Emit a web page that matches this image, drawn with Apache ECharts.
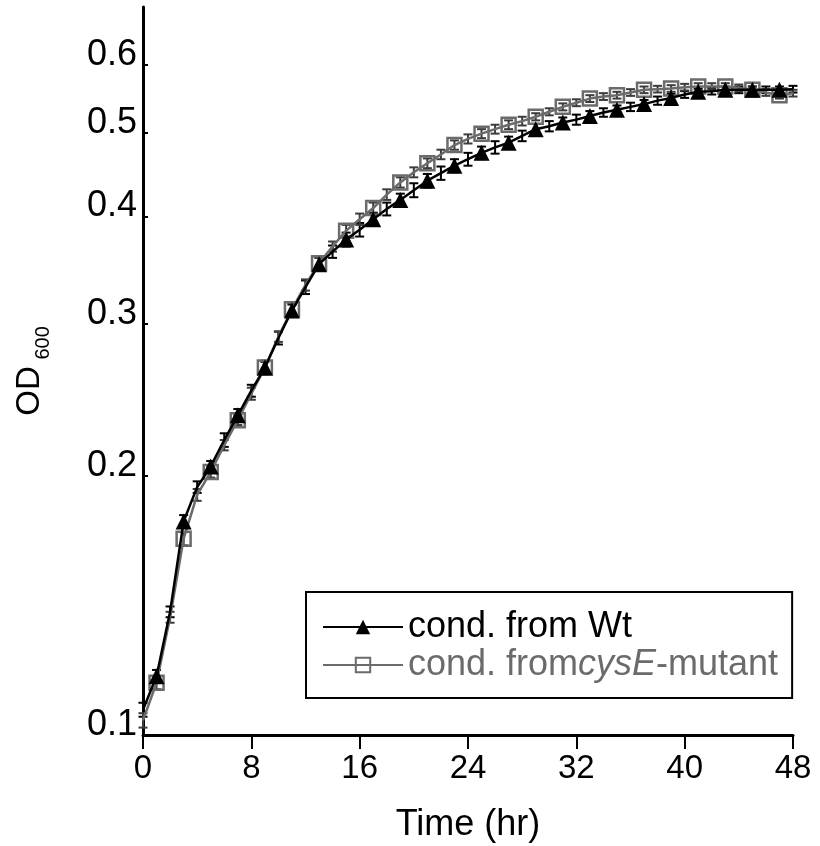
<!DOCTYPE html>
<html>
<head>
<meta charset="utf-8">
<script src="https://cdn.jsdelivr.net/npm/echarts@6/dist/echarts.min.js"></script>
<style>
  html, body { margin: 0; padding: 0; background: #fff; }
  #growth-curve { width: 820px; height: 846px; }
</style>
</head>
<body>
<div id="growth-curve"></div>
<script>
// sampling times (hr)
var hours = [0, 1, 2, 3, 4, 5, 6, 7, 8, 9, 10, 11, 12, 13, 14, 15, 16, 17, 18, 19, 20, 21, 22, 23, 24,
  25, 26, 27, 28, 29, 30, 31, 32, 33, 34, 35, 36, 37, 38, 39, 40, 41, 42, 43, 44, 45, 46, 47, 48];

// OD600, conditioned medium from wild type
var wtOD = [0.107, 0.117, 0.139, 0.177, 0.194, 0.205, 0.220, 0.235, 0.251, 0.267, 0.289, 0.311, 0.331,
  0.352, 0.364, 0.376, 0.386, 0.397, 0.408, 0.418, 0.429, 0.440, 0.449, 0.458, 0.466, 0.474, 0.481,
  0.487, 0.496, 0.505, 0.509, 0.514, 0.518, 0.523, 0.528, 0.532, 0.536, 0.540, 0.545, 0.549, 0.554,
  0.558, 0.559, 0.561, 0.561, 0.561, 0.561, 0.561, 0.562];
var wtSD = [0.002, 0.002, 0.002, 0.003, 0.003, 0.003, 0.004, 0.004, 0.004, 0.005, 0.005, 0.005, 0.006,
  0.006, 0.006, 0.007, 0.007, 0.007, 0.007, 0.007, 0.008, 0.008, 0.008, 0.008, 0.008, 0.008, 0.008,
  0.008, 0.007, 0.007, 0.007, 0.007, 0.007, 0.007, 0.006, 0.006, 0.006, 0.006, 0.006, 0.006, 0.005,
  0.005, 0.005, 0.005, 0.005, 0.005, 0.005, 0.005, 0.005];

// OD600, conditioned medium from cysE mutant
var mutantOD = [0.104, 0.115, 0.137, 0.169, 0.190, 0.202, 0.217, 0.232, 0.249, 0.267, 0.290, 0.312, 0.333,
  0.353, 0.369, 0.385, 0.397, 0.409, 0.424, 0.438, 0.450, 0.461, 0.472, 0.484, 0.492, 0.499, 0.505,
  0.511, 0.516, 0.522, 0.529, 0.536, 0.542, 0.548, 0.551, 0.553, 0.557, 0.561, 0.562, 0.563, 0.565,
  0.566, 0.566, 0.566, 0.564, 0.561, 0.557, 0.553, 0.556];
var mutantSD = [0.002, 0.002, 0.002, 0.003, 0.003, 0.003, 0.003, 0.003, 0.004, 0.004, 0.004, 0.005, 0.005,
  0.005, 0.005, 0.006, 0.006, 0.006, 0.006, 0.006, 0.006, 0.006, 0.006, 0.006, 0.006, 0.006, 0.006,
  0.006, 0.006, 0.005, 0.005, 0.005, 0.005, 0.005, 0.005, 0.005, 0.005, 0.005, 0.005, 0.005, 0.005,
  0.005, 0.005, 0.005, 0.005, 0.005, 0.005, 0.005, 0.005];

var seriesNames = ["cond. from Wt", "cond. fromcysE-mutant"];
var yTickValues = [0.1, 0.2, 0.3, 0.4, 0.5, 0.6];

var GREY = "#6b6b6b";
var FONT = "Liberation Sans, Arial, sans-serif";

// markers only on odd hours, every point keeps its line vertex
function lineData(values) {
  return hours.map(function (h, i) {
    var item = { value: [h, values[i]] };
    if (h % 2 === 0) item.symbol = "none";
    return item;
  });
}

function errorData(values, sd) {
  return hours.map(function (h, i) {
    return [h, values[i] - sd[i], values[i] + sd[i]];
  });
}

function errorBars(color) {
  return function (params, api) {
    var x = api.value(0);
    var lo = api.coord([x, api.value(1)]);
    var hi = api.coord([x, api.value(2)]);
    var w = 4.5;
    var st = { stroke: color, lineWidth: 2 };
    return {
      type: "group",
      children: [
        { type: "line", shape: { x1: lo[0], y1: lo[1], x2: hi[0], y2: hi[1] }, style: st },
        { type: "line", shape: { x1: lo[0] - w, y1: lo[1], x2: lo[0] + w, y2: lo[1] }, style: st },
        { type: "line", shape: { x1: hi[0] - w, y1: hi[1], x2: hi[0] + w, y2: hi[1] }, style: st }
      ]
    };
  };
}

var chart = echarts.init(document.getElementById("growth-curve"));

var option = {
  animation: false,
  backgroundColor: "#fff",
  textStyle: { fontFamily: FONT },
  grid: { left: 143, right: 27, top: 7, bottom: 111, containLabel: false, outerBoundsMode: "none" },
  legend: {
    data: seriesNames,
    orient: "vertical",
    left: 306,
    top: 592,
    padding: [17, 14, 15, 16],
    itemGap: 2,
    itemWidth: 80,
    itemHeight: 18,
    borderColor: "#000",
    borderWidth: 2,
    selectedMode: false,
    formatter: function (name) {
      if (name === seriesNames[1]) return "{g|cond. from}{gi|cysE}{g|-mutant}";
      return "{k|" + name + "}";
    },
    textStyle: {
      fontFamily: FONT,
      fontSize: 36,
      lineHeight: 36,
      rich: {
        k: { color: "#000", fontSize: 36, fontFamily: FONT },
        g: { color: GREY, fontSize: 36, fontFamily: FONT },
        gi: { color: GREY, fontSize: 36, fontStyle: "italic", fontFamily: FONT }
      }
    }
  },
  xAxis: {
    type: "value",
    min: 0,
    max: 48,
    interval: 8,
    name: "Time (hr)",
    nameLocation: "middle",
    nameGap: 72,
    nameTextStyle: { color: "#000", fontSize: 36, fontFamily: FONT },
    axisLine: { lineStyle: { color: "#000", width: 3 } },
    axisTick: { inside: false, length: 14, lineStyle: { color: "#000", width: 2 } },
    axisLabel: { color: "#000", fontSize: 33, margin: 17, fontFamily: FONT },
    splitLine: { show: false }
  },
  yAxis: {
    type: "log",
    logBase: 10,
    min: 0.1,
    max: 0.7,
    name: "{od|OD}  {sub|600}",
    nameLocation: "middle",
    nameRotate: 90,
    nameGap: 90,
    nameTextStyle: {
      color: "#000",
      fontFamily: FONT,
      rich: {
        od: { fontSize: 33, lineHeight: 40, verticalAlign: "top", fontFamily: FONT },
        sub: { fontSize: 20, lineHeight: 20, padding: [44, 0, 0, 0], verticalAlign: "bottom", fontFamily: FONT }
      }
    },
    axisLine: { show: true, lineStyle: { color: "#000", width: 3 } },
    axisTick: {
      show: true,
      inside: true,
      length: 5,
      customValues: yTickValues,
      lineStyle: { color: "#000", width: 2 }
    },
    axisLabel: {
      color: "#000",
      fontSize: 36,
      lineHeight: 20,
      fontFamily: FONT,
      margin: 6,
      verticalAlign: "bottom",
      customValues: yTickValues,
      formatter: function (v) { return v.toFixed(1); }
    },
    splitLine: { show: false },
    minorTick: { show: false }
  },
  series: [
    {
      type: "custom",
      name: "wt-err",
      renderItem: errorBars("#000"),
      encode: { x: 0, y: [1, 2] },
      data: errorData(wtOD, wtSD),
      z: 3
    },
    {
      type: "custom",
      name: "mutant-err",
      renderItem: errorBars("#3c3c3c"),
      encode: { x: 0, y: [1, 2] },
      data: errorData(mutantOD, mutantSD),
      z: 3
    },
    {
      type: "line",
      name: seriesNames[1],
      data: lineData(mutantOD),
      symbol: "rect",
      symbolSize: 14,
      showAllSymbol: true,
      lineStyle: { color: GREY, width: 2.5 },
      itemStyle: { color: "rgba(255,255,255,0)", borderColor: GREY, borderWidth: 2.5 },
      z: 4
    },
    {
      type: "line",
      name: seriesNames[0],
      data: lineData(wtOD),
      symbol: "triangle",
      symbolSize: 16,
      showAllSymbol: true,
      lineStyle: { color: "#000", width: 2.5 },
      itemStyle: { color: "#000" },
      z: 5
    }
  ]
};

chart.setOption(option);
window.addEventListener("resize", function () {
  chart.resize();
});
</script>
</body>
</html>
